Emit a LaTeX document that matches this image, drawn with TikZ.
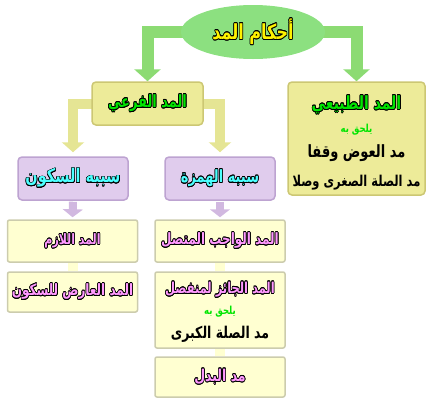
\documentclass[tikz,border=0pt]{standalone}
\usepackage{fontspec}
\usepackage{graphicx}
\usepackage{contour}
\usetikzlibrary{arrows.meta,backgrounds,shapes.geometric}
\newfontfamily\arabicfont[Script=Arabic]{DejaVu Sans}
\TeXXeTstate=1
\contourlength{0.6pt}
\definecolor{madgreen}{rgb}{0.55,0.88,0.5}
\definecolor{arrgreen}{rgb}{0.55,0.86,0.45}
\definecolor{boxyel}{rgb}{0.93,0.92,0.6}
\definecolor{yeledge}{rgb}{0.8,0.78,0.45}
\definecolor{arryel}{rgb}{0.9,0.9,0.58}
\definecolor{boxlila}{rgb}{0.88,0.8,0.93}
\definecolor{lilaedge}{rgb}{0.74,0.64,0.82}
\definecolor{arrlila}{rgb}{0.82,0.72,0.88}
\definecolor{cream}{rgb}{1,1,0.82}
\definecolor{creamedge}{rgb}{0.8,0.8,0.68}
\definecolor{txtgreen}{rgb}{0,0.9,0}
\definecolor{txtcyan}{rgb}{0.3,1,1}
\definecolor{txtpink}{rgb}{1,0.6,1}
\newcommand{\ol}[1]{\scalebox{1}[1.3]{\contour{black}{\beginR #1\endR}}}
\newcommand{\rl}[1]{\scalebox{1}[1.3]{\beginR #1\endR}}

\begin{document}
\begin{tikzpicture}[x=1pt,y=-1pt,
  ybox/.style={rectangle, rounded corners=4pt, fill=boxyel, draw=yeledge, line width=1.5pt, inner sep=0pt},
  pbox/.style={rectangle, rounded corners=4pt, fill=boxlila, draw=lilaedge, line width=1.5pt, inner sep=0pt},
  cbox/.style={rectangle, rounded corners=2pt, fill=cream, draw=creamedge, line width=1.5pt, inner sep=0pt, minimum width=130, text=txtpink},
  txt/.style={inner sep=0pt, font=\arabicfont\bfseries},
  garrow/.style={draw=arrgreen, line width=12pt, -{Triangle[length=12pt,width=26pt]}},
  yarrow/.style={draw=arryel, line width=10pt, -{Triangle[length=10pt,width=22pt]}, shorten >=4pt},
  parrow/.style={draw=arrlila, line width=8pt, -{Triangle[length=8pt,width=20pt]}, shorten <=1pt, shorten >=2pt},
  stub/.style={draw=cream, line width=10pt}]
\useasboundingbox (0,0) rectangle (432,405);

% top
\node[ellipse, fill=madgreen, minimum width=144, minimum height=54, txt, text=yellow, font=\arabicfont\bfseries\fontsize{16}{18}\selectfont] (madd) at (253,32) {\ol{أحكام المد}};

% right branch
\node[ybox, minimum width=137, minimum height=113] (tabii) at (356.5,138.5) {};
\node[txt, text=txtgreen, font=\arabicfont\bfseries\fontsize{14}{16}\selectfont] (tabiit) at (356.5,105) {\ol{المد الطبيعي}};
\node[txt, text=txtgreen, font=\arabicfont\bfseries\fontsize{8.5}{10}\selectfont] (tabiil) at (356.5,130) {\rl{يلحق به}};
\node[txt, font=\arabicfont\bfseries\fontsize{13}{15}\selectfont] (iwad) at (356.5,153) {\rl{مد العوض وقفا}};
\node[txt, font=\arabicfont\bfseries\fontsize{11.5}{13}\selectfont] (sughra) at (356.5,183) {\rl{مد الصلة الصغرى وصلا}};

% left branch
\node[ybox, minimum width=111, minimum height=43, txt, text=txtgreen, font=\arabicfont\bfseries\fontsize{13}{15}\selectfont] (fari) at (147.5,103.5) {\ol{المد الفرعي}};
\node[pbox, minimum width=110, minimum height=43, txt, text=txtcyan, font=\arabicfont\bfseries\fontsize{14.5}{16}\selectfont] (sakun) at (73,178.5) {\ol{سببه السكون}};
\node[pbox, minimum width=110, minimum height=43, txt, text=txtcyan, font=\arabicfont\bfseries\fontsize{13}{15}\selectfont] (hamza) at (220,178.5) {\ol{سببه الهمزة}};

\node[cbox, minimum height=42, txt, font=\arabicfont\bfseries\fontsize{11}{13}\selectfont] (lazim) at (72.5,241) {\ol{المد اللازم}};
\node[cbox, minimum height=40, txt, font=\arabicfont\bfseries\fontsize{12}{14}\selectfont] (aarid) at (72.5,292) {\ol{المد العارض للسكون}};
\node[cbox, minimum height=42, txt, font=\arabicfont\bfseries\fontsize{12}{14}\selectfont] (muttasil) at (220,241) {\ol{المد الواجب المتصل}};
\node[cbox, minimum height=76] (munfasil) at (220,310) {};
\node[txt, text=txtpink, font=\arabicfont\bfseries\fontsize{11.5}{13}\selectfont] (munfasilt) at (220,290) {\ol{المد الجائز لمنفصل}};
\node[txt, text=txtgreen, font=\arabicfont\bfseries\fontsize{8.5}{10}\selectfont] (munfasill) at (220,312) {\rl{يلحق به}};
\node[txt, font=\arabicfont\bfseries\fontsize{12.5}{14}\selectfont] (kubra) at (220,334) {\rl{مد الصلة الكبرى}};
\node[cbox, minimum height=40, txt, font=\arabicfont\bfseries\fontsize{12.5}{14}\selectfont] (badal) at (220,377) {\ol{مد البدل}};

\begin{pgfonlayer}{background}
\draw[garrow] (madd.center) -| (fari.north);
\draw[garrow] (madd.center) -| (tabii.north);
\draw[yarrow] (fari.center) -| (sakun.north);
\draw[yarrow] (fari.center) -| (hamza.north);
\end{pgfonlayer}
\draw[parrow] (sakun.south) -- (lazim.north);
\draw[parrow] (hamza.south) -- (muttasil.north);
\draw[stub] (lazim.south) -- (aarid.north);
\draw[stub] (muttasil.south) -- (munfasil.north);
\draw[stub] (munfasil.south) -- (badal.north);
\end{tikzpicture}
\end{document}
